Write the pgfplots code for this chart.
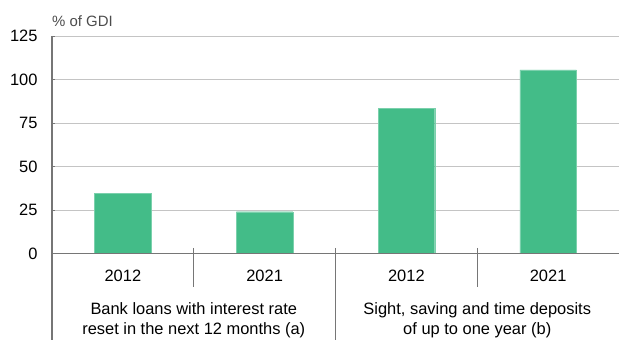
\documentclass[border=0pt]{standalone}
\usepackage{pgfplots}
\pgfplotsset{compat=1.18}
\usepackage{fontspec}
\setmainfont{Liberation Sans}
\definecolor{barg}{RGB}{67,188,136}
\definecolor{gridg}{RGB}{196,196,196}
\definecolor{axg}{RGB}{118,118,118}
\begin{document}
\begin{tikzpicture}[x=1bp,y=1bp]
\useasboundingbox (0,0) rectangle (619,340);
\begin{axis}[
  at={(52bp,86.5bp)}, anchor=south west,
  scale only axis, width=567bp, height=217.5bp,
  xmin=-0.5, xmax=3.5, ymin=0, ymax=125,
  clip=false,
  axis line style={draw=none},
  axis x line=none,
  ytick={0,25,50,75,100,125},
  ymajorgrids, grid style={gridg, line width=1pt},
  major tick length=0pt,
  yticklabel style={font=\fontsize{16.5}{18}\selectfont, xshift=-11bp},
  /pgf/number format/assume math mode=true,
  ybar, bar width=0.4,
]
\addplot[fill=barg, draw=barg!70!white, line width=0.4pt] coordinates {(0,34.6) (1,24) (2,83.4) (3,105.5)};
\draw[axg, line width=1.4pt] (axis cs:-0.5,0) -- (axis cs:3.5,0);
\draw[axg, line width=1.4pt] (axis cs:-0.5,125) -- (axis cs:-0.5,-49.8);
\draw[axg, line width=1pt] (axis cs:-0.5,25) -- (axis cs:-0.48,25);
\draw[axg, line width=1pt] (axis cs:-0.5,50) -- (axis cs:-0.48,50);
\draw[axg, line width=1pt] (axis cs:-0.5,75) -- (axis cs:-0.48,75);
\draw[axg, line width=1pt] (axis cs:-0.5,100) -- (axis cs:-0.48,100);
\draw[axg, line width=1pt] (axis cs:-0.5,125) -- (axis cs:-0.48,125);
\draw[axg, line width=1pt] (axis cs:0.5,3.2) -- (axis cs:0.5,-19.3);
\draw[axg, line width=1pt] (axis cs:2.5,3.2) -- (axis cs:2.5,-19.3);
\draw[axg, line width=1pt] (axis cs:1.5,3.2) -- (axis cs:1.5,-49.8);
\node[font=\fontsize{16.5}{18}\selectfont] at (axis cs:0,-12.9) {2012};
\node[font=\fontsize{16.5}{18}\selectfont] at (axis cs:1,-12.9) {2021};
\node[font=\fontsize{16.5}{18}\selectfont] at (axis cs:2,-12.9) {2012};
\node[font=\fontsize{16.5}{18}\selectfont] at (axis cs:3,-12.9) {2021};
\node[font=\fontsize{16.5}{20}\selectfont, align=center] at (axis cs:0.5,-38.2) {Bank loans with interest rate\\reset in the next 12 months (a)};
\node[font=\fontsize{16.5}{20}\selectfont, align=center] at (axis cs:2.5,-38.2) {Sight, saving and time deposits\\of up to one year (b)};
\end{axis}
\node[font=\fontsize{15}{17}\selectfont, text=black!70, anchor=west, inner sep=0pt] at (52,319) {\% of GDI};
\end{tikzpicture}
\end{document}
